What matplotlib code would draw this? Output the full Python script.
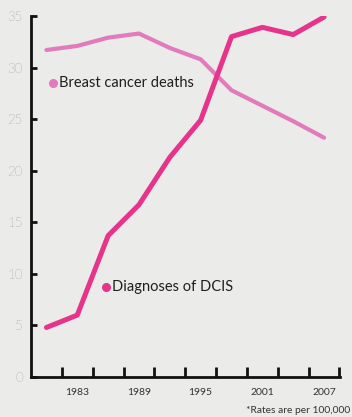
import matplotlib
matplotlib.use("Agg")
import matplotlib.pyplot as plt

# Rates per 100,000 women
years = [1980, 1983, 1986, 1989, 1992, 1995, 1998, 2001, 2004, 2007]
deaths = [31.7, 32.1, 32.9, 33.3, 31.9, 30.8, 27.8, 26.3, 24.8, 23.2]
dcis = [4.8, 6.0, 13.7, 16.7, 21.3, 24.9, 33.0, 33.9, 33.2, 34.9]

year_labels = [1983, 1989, 1995, 2001, 2007]
minor_ticks = [1981.5 + 3 * k for k in range(10)]
y_ticks = [0, 5, 10, 15, 20, 25, 30, 35]

deaths_color = "#e27bbb"
dcis_color = "#e6348a"
bg = "#ebebea"
ink = "#1f1f1f"
font = ["Lato", "DejaVu Sans"]

fig = plt.figure(figsize=(3.52, 4.17), dpi=100, facecolor=bg)
ax = fig.add_axes([31 / 352, 40 / 417, (340 - 31) / 352, (377 - 16) / 417])
ax.set_facecolor(bg)

ax.plot(years, deaths, color=deaths_color, lw=3.0,
        solid_capstyle="round", solid_joinstyle="round", zorder=2)
ax.plot(years, dcis, color=dcis_color, lw=3.6,
        solid_capstyle="round", solid_joinstyle="round", zorder=3)

ax.set_xlim(1978.5, 2008.55)
ax.set_ylim(0, 35)

for s in ("top", "right"):
    ax.spines[s].set_visible(False)
for s in ("left", "bottom"):
    ax.spines[s].set_color("#111111")
    ax.spines[s].set_linewidth(2.0)
ax.spines["left"].set_capstyle("projecting")
ax.spines["bottom"].set_capstyle("projecting")

ax.set_yticks(y_ticks)
ax.set_yticklabels([str(v) for v in y_ticks], fontfamily=font,
                   fontweight="light", fontsize=9.5, color="#555555")
ax.tick_params(axis="y", direction="in", length=4, width=2, color="#111111",
               pad=6)

ax.set_xticks(minor_ticks)
ax.set_xticklabels([])
ax.tick_params(axis="x", which="major", direction="in", length=7, width=2,
               color="#111111")
ax.set_xticks(year_labels, minor=True)
ax.set_xticklabels([str(y) for y in year_labels], minor=True,
                   fontfamily=font, fontsize=7.5, color="#333333")
ax.tick_params(axis="x", which="minor", length=0, pad=8)

# Series labels with dot markers
ax.plot([1980.6], [28.5], "o", color=deaths_color, ms=5.5, clip_on=False)
ax.text(1981.2, 28.5, "Breast cancer deaths", fontfamily=font, fontsize=10.5,
        color=ink, va="center", ha="left")
ax.plot([1985.8], [8.7], "o", color=dcis_color, ms=5.5, clip_on=False)
ax.text(1986.4, 8.7, "Diagnoses of DCIS", fontfamily=font, fontsize=10.5,
        color=ink, va="center", ha="left")

fig.text(350 / 352, 4 / 417, "*Rates are per 100,000", fontfamily=font,
         fontsize=7.4, color="#333333", ha="right", va="baseline")

fig.savefig("out.png", dpi=100, facecolor=bg)
